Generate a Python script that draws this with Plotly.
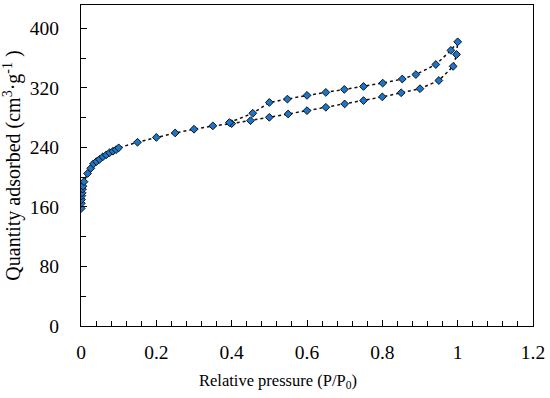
import plotly.graph_objects as go

# Adsorption branch (P/P0, cm3/g)
ads_x = [0.0005, 0.001, 0.0015, 0.002, 0.003, 0.004, 0.005, 0.008, 0.0175, 0.026,
         0.033, 0.041, 0.049, 0.058, 0.067, 0.076, 0.085, 0.093, 0.1, 0.15,
         0.2, 0.25, 0.3, 0.35, 0.4, 0.45, 0.5, 0.55, 0.6, 0.65,
         0.7, 0.75, 0.8, 0.85, 0.9, 0.95, 0.988, 0.997]
ads_y = [158, 165, 170, 175, 179, 184, 188, 194, 205, 212,
         218, 221, 224, 227.5, 230, 233, 235, 237, 239.5, 247,
         253.5, 259.5, 264.5, 269, 272, 276, 280.5, 285, 289.5, 294,
         298.5, 303, 308, 313.5, 319, 330, 349, 365]

# Desorption branch
des_x = [1.0, 0.982, 0.942, 0.889, 0.853, 0.801, 0.75, 0.699, 0.65, 0.6,
         0.548, 0.5, 0.456, 0.394]
des_y = [382, 370.5, 351.5, 338, 332, 326.5, 322, 318, 314, 310,
         305, 300.5, 286, 273.5]

x_ticks = [0, 0.2, 0.4, 0.6, 0.8, 1, 1.2]
x_ticklabels = ["0", "0.2", "0.4", "0.6", "0.8", "1", "1.2"]
y_ticks = [0, 80, 160, 240, 320, 400]

x_title = "Relative pressure (P/P<sub>0</sub>)"
y_title = "Quantity adsorbed (cm<sup>3</sup>·g<sup>-1</sup> )"

FONT = "Liberation Serif, Times New Roman, serif"

fig = go.Figure()
fig.add_trace(go.Scatter(
    x=ads_x + des_x, y=ads_y + des_y,
    mode="lines+markers",
    line=dict(color="#111111", width=1.5, dash="dot"),
    marker=dict(symbol="diamond", size=6, color="#1a75cc",
                line=dict(color="#111111", width=1)),
    showlegend=False,
))

fig.update_layout(
    width=550, height=398,
    margin=dict(l=81, r=17, t=5, b=72),
    paper_bgcolor="white", plot_bgcolor="white",
    font=dict(family=FONT, color="black"),
)
fig.update_xaxes(
    range=[0, 1.2], tickvals=x_ticks, ticktext=x_ticklabels,
    automargin=False,
    showgrid=False, zeroline=False,
    showline=True, linecolor="black", linewidth=1.3, mirror=True,
    ticks="inside", ticklen=6, tickwidth=1, tickcolor="black",
    minor=dict(ticks="inside", dtick=0.04, ticklen=5, tickcolor="black", tickwidth=1),
    tickfont=dict(size=19.5, family=FONT),
    ticklabelstandoff=8,
)
fig.update_yaxes(
    range=[0, 431.5], tickvals=y_ticks,
    automargin=False,
    showgrid=False, zeroline=False,
    showline=True, linecolor="black", linewidth=1.3, mirror=True,
    ticks="inside", ticklen=6, tickwidth=1, tickcolor="black",
    minor=dict(ticks="inside", dtick=40, ticklen=5, tickcolor="black", tickwidth=1),
    tickfont=dict(size=19.5, family=FONT),
    ticklabelstandoff=17,
    title=dict(text=y_title, font=dict(size=20, family=FONT), standoff=9),
)
fig.add_annotation(
    text=x_title, xref="paper", yref="paper", x=0.436, y=-0.1726,
    xanchor="center", yanchor="middle", showarrow=False,
    font=dict(size=16.5, family=FONT, color="black"),
)

fig.write_html(
    "out.html",
    config={"displayModeBar": False},
    post_script="document.body.style.margin='0';document.body.style.overflow='hidden';",
)
